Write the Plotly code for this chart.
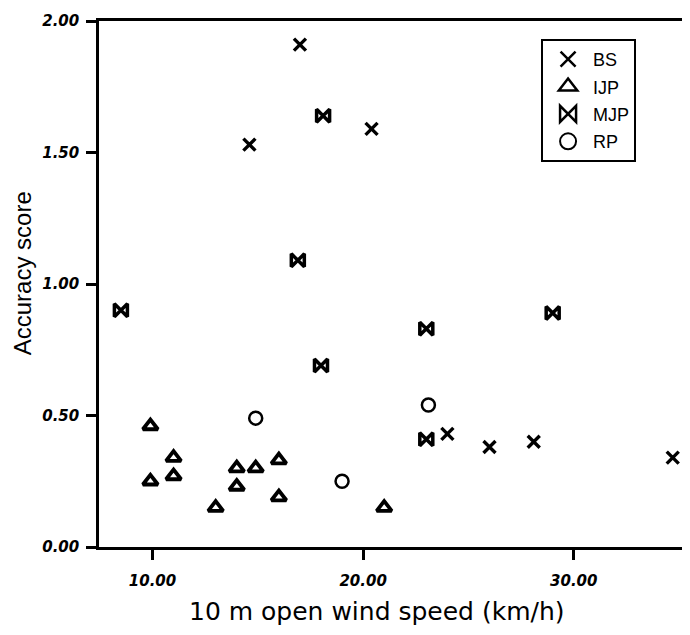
import plotly.graph_objects as go

# ---- data ----
series_names = ["BS", "IJP", "MJP", "RP"]

BS_x = [17.0, 14.6, 20.4, 24.0, 26.0, 28.1, 34.7]
BS_y = [1.91, 1.53, 1.59, 0.43, 0.38, 0.40, 0.34]

IJP_x = [9.9, 11.0, 9.9, 11.0, 14.0, 14.9, 16.0, 14.0, 16.0, 13.0, 21.0]
IJP_y = [0.46, 0.34, 0.25, 0.27, 0.30, 0.30, 0.33, 0.23, 0.19, 0.15, 0.15]

MJP_x = [18.1, 16.9, 18.0, 8.5, 23.0, 29.0, 23.0]
MJP_y = [1.64, 1.09, 0.69, 0.90, 0.83, 0.89, 0.41]

RP_x = [14.9, 19.0, 23.1]
RP_y = [0.49, 0.25, 0.54]

x_ticks = [10, 20, 30]
x_ticklabels = ["10.00", "20.00", "30.00"]
y_ticks = [0, 0.5, 1.0, 1.5, 2.0]
y_ticklabels = ["0.00", "0.50", "1.00", "1.50", "2.00"]

x_title = "10 m open wind speed (km/h)"
y_title = "Accuracy score"

# ---- figure ----
styles = {
    "BS": dict(symbol="x-thin-open", size=12, lw=3.4, leg=15),
    "IJP": dict(symbol="triangle-up-open", size=13, lw=3.8, leg=16),
    "MJP": dict(symbol="bowtie-open", size=13, lw=3.5, leg=16),
    "RP": dict(symbol="circle-open", size=13, lw=2.5, leg=16),
}
data = {"BS": (BS_x, BS_y), "IJP": (IJP_x, IJP_y), "MJP": (MJP_x, MJP_y), "RP": (RP_x, RP_y)}

fig = go.Figure()
for name in series_names:
    xs, ys = data[name]
    st = styles[name]
    fig.add_trace(go.Scatter(
        x=xs, y=ys, mode="markers", name=name, legendgroup=name, showlegend=False,
        marker=dict(symbol=st["symbol"], size=st["size"], color="black",
                    line=dict(width=st["lw"], color="black")),
    ))
    # legend-only entry with the larger key symbol used in the reference legend
    fig.add_trace(go.Scatter(
        x=[None], y=[None], mode="markers", name=name, legendgroup=name, showlegend=True,
        marker=dict(symbol=st["symbol"], size=st["leg"], color="black",
                    line=dict(width=2.5 if name != "RP" else 2, color="black")),
    ))

tickfont = dict(family="DejaVu Sans", size=15, color="black", weight="bold", style="italic")

fig.update_layout(
    width=682, height=627,
    margin=dict(l=91, r=0, t=13, b=87.5),
    paper_bgcolor="white", plot_bgcolor="white",
    showlegend=True,
    legend=dict(
        x=0.748, y=0.966, xanchor="left", yanchor="top",
        bordercolor="black", borderwidth=2, bgcolor="white",
        font=dict(family="Liberation Sans", size=18, color="black"),
        itemsizing="trace", tracegroupgap=1, itemwidth=40,
        entrywidth=60, entrywidthmode="pixels",
    ),
    xaxis=dict(
        range=[7.46, 35.52], tickmode="array", tickvals=x_ticks, ticktext=x_ticklabels,
        ticks="outside", ticklen=10, tickwidth=3, tickcolor="black",
        showline=True, linewidth=2.5, linecolor="black", mirror=True,
        showgrid=False, zeroline=False, tickfont=tickfont, ticklabelstandoff=8,
    ),
    yaxis=dict(
        range=[0, 2], tickmode="array", tickvals=y_ticks, ticktext=y_ticklabels,
        ticks="outside", ticklen=10, tickwidth=3, tickcolor="black",
        showline=True, linewidth=2.5, linecolor="black",
        showgrid=False, zeroline=False, tickfont=tickfont, ticklabelstandoff=4,
    ),
    annotations=[
        dict(text=x_title, xref="paper", yref="paper", x=0.470, y=-0.122,
             xanchor="center", yanchor="middle", showarrow=False,
             font=dict(family="DejaVu Sans", size=25, color="black")),
        dict(text=y_title, xref="paper", yref="paper", x=-0.128, y=0.521,
             xanchor="center", yanchor="middle", showarrow=False, textangle=-90,
             font=dict(family="Liberation Sans", size=24, color="black")),
    ],
)

fig.write_html("out.html")
